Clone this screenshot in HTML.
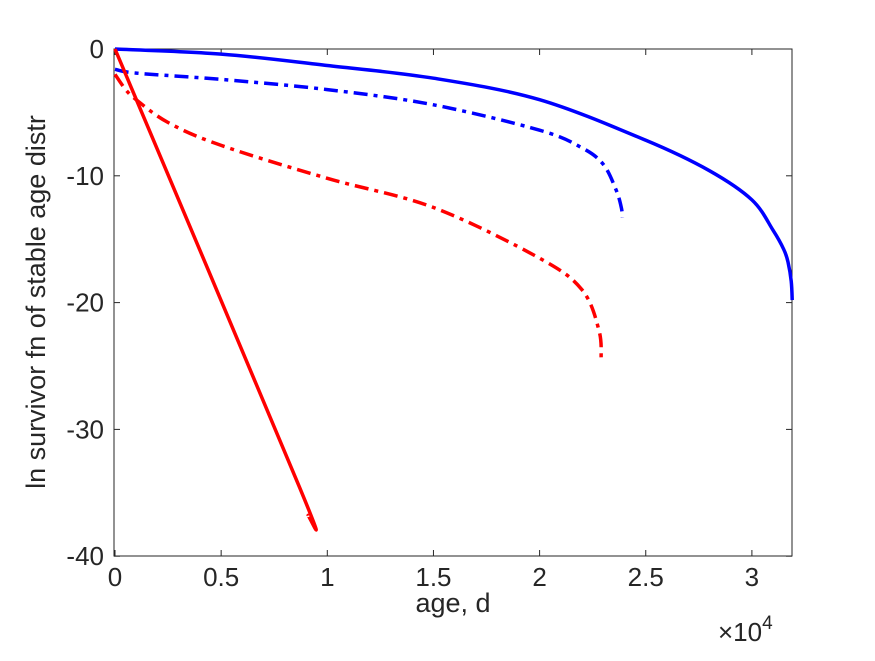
<!DOCTYPE html>
<html><head><meta charset="utf-8"><style>
body{margin:0;background:#fff;}
svg text{font-family:"Liberation Sans",sans-serif;fill:#262626;}
</style></head><body>
<svg id="chart" width="875" height="656">
<rect width="875" height="656" fill="#fff"/>
<g id="plot"></g>
</svg>
<script>
const xTicks=[0,0.5,1,1.5,2,2.5,3];
const xTickLabels=["0","0.5","1","1.5","2","2.5","3"];
const yTicks=[0,-10,-20,-30,-40];
const yTickLabels=["0","-10","-20","-30","-40"];
const blueSolidX=[0,0.5,1,1.5,2,2.5,2.8,3,3.1,3.15,3.17,3.185,3.19];
const blueSolidY=[0,-0.4,-1.3,-2.3,-4,-7.2,-9.6,-11.9,-14.3,-15.8,-16.8,-18.3,-19.8];
const blueDashX=[0,0.1,0.5,1,1.5,2,2.2,2.3,2.36,2.385,2.39];
const blueDashY=[-1.6,-1.9,-2.4,-3.2,-4.4,-6.4,-7.8,-9.1,-11.1,-12.5,-13.3];
const redSolidX=[0,0.87,0.91];
const redSolidY=[0,-34.6,-36.8];
const redDashX=[0,0.05,0.1,0.25,0.5,1,1.5,2,2.2,2.28,2.29];
const redDashY=[-2,-3.2,-4,-5.8,-7.6,-10.2,-12.5,-16.5,-19,-22.2,-24.4];
const X0=115,XS=212.3,Y0=49,YS=12.68,L=114,R=792,T=49,B=556;
const xp=v=>X0+v*XS, yp=v=>Y0-v*YS;
const NS="http://www.w3.org/2000/svg";
const g=document.getElementById('plot');
function mk(t,a){const e=document.createElementNS(NS,t);for(const k in a)e.setAttribute(k,a[k]);g.appendChild(e);return e;}
const box=mk('rect',{x:L,y:T,width:R-L,height:B-T,fill:'none',stroke:'#262626','stroke-width':1});


xTicks.forEach((v,i)=>{
 const x=xp(v);
 const t1=mk('line',{x1:x,x2:x,y1:B,y2:B-6,stroke:'#262626'});
 
 
 const t2=mk('line',{x1:x,x2:x,y1:T,y2:T+6,stroke:'#262626'});
 
 
 const tx=mk('text',{x:x,y:B+30,'text-anchor':'middle','font-size':26});
 tx.textContent=xTickLabels[i];
 
 
});
yTicks.forEach((v,i)=>{
 const y=yp(v);
 const t1=mk('line',{x1:L,x2:L+6,y1:y,y2:y,stroke:'#262626'});
 
 
 const t2=mk('line',{x1:R,x2:R-6,y1:y,y2:y,stroke:'#262626'});
 
 
 const tx=mk('text',{x:L-10,y:y+9,'text-anchor':'end','font-size':26});
 tx.textContent=yTickLabels[i];
 
 
});
function smoothPath(pts){
 let d='M'+pts[0][0].toFixed(1)+','+pts[0][1].toFixed(1);
 for(let i=0;i<pts.length-1;i++){
  const p0=pts[Math.max(0,i-1)],p1=pts[i],p2=pts[i+1],p3=pts[Math.min(pts.length-1,i+2)];
  const c1=[p1[0]+(p2[0]-p0[0])/6,p1[1]+(p2[1]-p0[1])/6];
  const c2=[p2[0]-(p3[0]-p1[0])/6,p2[1]-(p3[1]-p1[1])/6];
  d+=' C'+c1[0].toFixed(1)+','+c1[1].toFixed(1)+' '+c2[0].toFixed(1)+','+c2[1].toFixed(1)+' '+p2[0].toFixed(1)+','+p2[1].toFixed(1);
 }
 return d;
}
function series(xs,ys,color,dash,name){
 const pts=xs.map((x,i)=>[xp(x),yp(ys[i])]);
 const p=mk('path',{d:smoothPath(pts),fill:'none',stroke:color,'stroke-width':3.5,'stroke-linejoin':'round'});
 if(dash)p.setAttribute('stroke-dasharray',dash);
 
 
}
series(blueSolidX,blueSolidY,'#0000ff',null,'blue-solid-line');
series(blueDashX,blueDashY,'#0000ff','14,6,4,6','blue-dashdot-line');
series(redSolidX,redSolidY,'#ff0000',null,'red-solid-line');
series(redDashX,redDashY,'#ff0000','14,6,4,6','red-dashdot-line');
const xl=mk('text',{x:453,y:612,'text-anchor':'middle','font-size':27});
xl.textContent='age, d';


const yl=mk('text',{x:0,y:0,'text-anchor':'middle','font-size':27,transform:'translate(45,302) rotate(-90)'});
yl.textContent='ln survivor fn of stable age distr';


const ex=mk('text',{x:718,y:641,'font-size':26});
ex.innerHTML='×10<tspan dy="-12" font-size="19">4</tspan>';


</script>
</body></html>
